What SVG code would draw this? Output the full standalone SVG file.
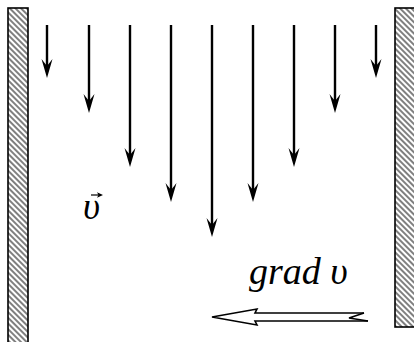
<svg xmlns="http://www.w3.org/2000/svg" width="414" height="342" viewBox="0 0 414 342">
<style>
.wall{fill:url(#hatch);stroke:#000;stroke-width:1.6}
.v{stroke:#000;stroke-width:2.4;fill:none}
.lbl{font-family:"Liberation Serif","Times New Roman",serif;font-style:italic;fill:#000}
</style>
<defs>
<pattern id="hatch" width="4" height="4" patternUnits="userSpaceOnUse" patternTransform="rotate(-45)">
<rect width="4" height="4" fill="#fff"/>
<line x1="1" y1="0" x2="1" y2="4" stroke="#555" stroke-width="1.5"/>
</pattern>
<path id="head" d="M0,0 L-5.5,-19 L0,-12 L5.5,-19 Z" fill="#000"/>
</defs>
<g id="wall-left"><rect class="wall" x="8" y="8" width="20" height="340"/></g>
<g id="wall-right"><rect class="wall" x="395" y="8" width="20" height="319"/></g>
<g id="connectors">
<g id="a1"><line class="v" x1="47" y1="25" x2="47" y2="68"/><use href="#head" x="47" y="78"/></g>
<g id="a2"><line class="v" x1="89" y1="25" x2="89" y2="103"/><use href="#head" x="89" y="113"/></g>
<g id="a3"><line class="v" x1="130" y1="25" x2="130" y2="157"/><use href="#head" x="130" y="167"/></g>
<g id="a4"><line class="v" x1="171" y1="25" x2="171" y2="192"/><use href="#head" x="171" y="202"/></g>
<g id="a5"><line class="v" x1="212" y1="25" x2="212" y2="227"/><use href="#head" x="212" y="237"/></g>
<g id="a6"><line class="v" x1="253" y1="25" x2="253" y2="192"/><use href="#head" x="253" y="202"/></g>
<g id="a7"><line class="v" x1="294" y1="25" x2="294" y2="157"/><use href="#head" x="294" y="167"/></g>
<g id="a8"><line class="v" x1="335" y1="25" x2="335" y2="103"/><use href="#head" x="335" y="113"/></g>
<g id="a9"><line class="v" x1="376" y1="25" x2="376" y2="68"/><use href="#head" x="376" y="78"/></g>
</g>
<g id="label-v">
<text class="lbl" x="83" y="219" font-size="37">υ</text>
<line x1="91" y1="195" x2="99" y2="195" stroke="#000" stroke-width="1.2"/>
<path d="M103,195 L97,192.3 L98.5,195 L97,197.7 Z" fill="#000"/>
</g>
<g id="label-grad">
<text class="lbl" x="249" y="284" font-size="38">grad υ</text>
</g>
<g id="grad-arrow" fill="none" stroke="#000" stroke-width="1.6" stroke-linejoin="miter">
<path d="M364,313 L255,313 L257,309 L212,317 L257,325 L255,321 L368,321"/>
<path d="M364,313 L349,318 L368,321"/>
</g>
</svg>
